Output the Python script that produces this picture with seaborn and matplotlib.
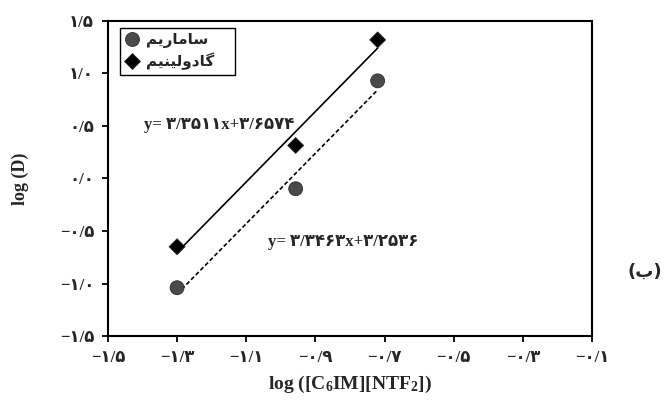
import matplotlib
matplotlib.use("Agg")
import matplotlib.pyplot as plt
import pandas as pd
import seaborn as sns

# Persian labels, written in visual (shaped, left-to-right) order because
# matplotlib does no Arabic shaping itself
samarium = "\ufee2\ufbfe\ufead\ufe8e\ufee3\ufe8e\ufeb3"            # ساماریم
gadolinium = "\ufee2\ufbff\ufee8\ufbff\ufedf\ufeed\ufea9\ufe8e\ufb94"  # گادولینیم
panel_label = "(\ufe8f)"                                            # (ب)

# data
log_il = [-1.30, -0.957, -0.72]
sm_logd = [-1.04, -0.098, 0.929]
gd_logd = [-0.65, 0.314, 1.319]

x_ticks = [-1.5, -1.3, -1.1, -0.9, -0.7, -0.5, -0.3, -0.1]
y_ticks = [-1.5, -1.0, -0.5, 0.0, 0.5, 1.0, 1.5]

eq_gd = "y= ۳/۳۵۱۱x+۳/۶۵۷۴"
eq_sm = "y= ۳/۳۴۶۳x+۳/۲۵۳۶"

FA_DIGITS = str.maketrans("0123456789.-", "۰۱۲۳۴۵۶۷۸۹/\u2212")


def fa_num(v, nd):
    return f"{v:.{nd}f}".translate(FA_DIGITS)


df = pd.DataFrame({
    "x": log_il + log_il,
    "y": sm_logd + gd_logd,
    "element": [samarium] * 3 + [gadolinium] * 3,
})

sns.set_style("ticks")
plt.rcParams["font.family"] = ["Liberation Serif", "DejaVu Sans"]
plt.rcParams["font.weight"] = "bold"
plt.rcParams["mathtext.fontset"] = "custom"
plt.rcParams["mathtext.rm"] = "Liberation Serif:bold"
plt.rcParams["mathtext.bf"] = "Liberation Serif:bold"
plt.rcParams["mathtext.it"] = "Liberation Serif:bold"

fig = plt.figure(figsize=(6.66, 4.01), dpi=100)
ax = fig.add_axes([0.162, 0.162, 0.727, 0.786])

# trend lines
sns.regplot(x=log_il, y=gd_logd, ci=None, scatter=False, truncate=True, ax=ax,
            line_kws=dict(color="black", lw=1.2))
sns.regplot(x=log_il, y=sm_logd, ci=None, scatter=False, truncate=True, ax=ax,
            line_kws=dict(color="black", lw=1.2, ls=(0, (2.5, 1.5))))

sns.scatterplot(data=df, x="x", y="y", hue="element", style="element",
                hue_order=[samarium, gadolinium], style_order=[samarium, gadolinium],
                palette={samarium: "#4a4a4a", gadolinium: "black"},
                markers={samarium: "o", gadolinium: "D"},
                size="element", sizes={samarium: 100, gadolinium: 66},
                edgecolor="#2a2a2a", linewidth=0.6, ax=ax, zorder=3)

ax.set_xlim(-1.5, -0.1)
ax.set_ylim(-1.5, 1.5)
ax.set_xticks(x_ticks)
ax.set_xticklabels([fa_num(v, 1) for v in x_ticks])
ax.set_yticks(y_ticks)
ax.set_yticklabels([fa_num(v, 1) for v in y_ticks])
ax.tick_params(axis="both", labelsize=12, length=4, width=1.3, color="black",
               direction="out")
ax.tick_params(axis="x", pad=6)
ax.tick_params(axis="y", pad=6)
for lab in ax.get_xticklabels() + ax.get_yticklabels():
    lab.set_fontweight("bold")

for side in ["left", "right", "top", "bottom"]:
    ax.spines[side].set_visible(True)
    ax.spines[side].set_color("black")
    ax.spines[side].set_linewidth(1.5)

ax.set_xlabel("log ([C$_6$IM][NTF$_2$])", fontsize=14, fontweight="bold", labelpad=6)
ax.set_ylabel("log (D)", fontsize=13, fontweight="bold", labelpad=22)

ax.text(-1.179, 0.51, eq_gd, fontsize=12, fontweight="bold", ha="center", va="center")
ax.text(-0.82, -0.605, eq_sm, fontsize=12, fontweight="bold", ha="center", va="center")

handles, labels = ax.get_legend_handles_labels()
leg = ax.legend(handles, [lab + "   " for lab in labels],
                loc="upper left", bbox_to_anchor=(0.025, 0.978), borderaxespad=0,
                fancybox=False, edgecolor="black", framealpha=1,
                handletextpad=0.4, borderpad=0.3, labelspacing=0.3, handlelength=1.0,
                prop={"family": ["DejaVu Sans"], "weight": "bold", "size": 11})
leg.get_frame().set_linewidth(1.0)

fig.text(0.968, 0.322, panel_label, fontsize=13, fontweight="bold",
         family=["DejaVu Sans"], ha="center", va="center")

fig.savefig("out.png", dpi=100)
